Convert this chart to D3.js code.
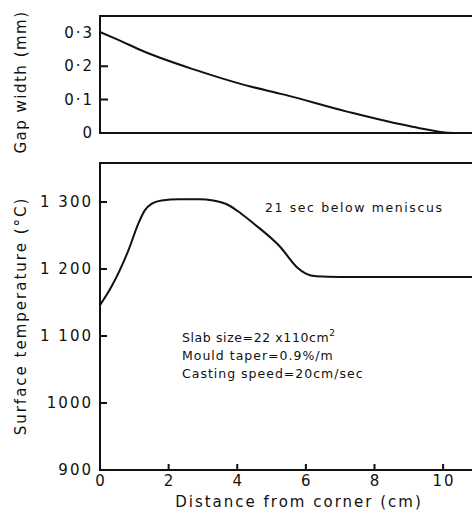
<!DOCTYPE html>
<html>
<head>
<meta charset="utf-8">
<script src="https://cdn.jsdelivr.net/npm/d3@7"></script>
<style>
  body { margin: 0; background: #fff; }
  svg text { font-family: "DejaVu Sans", sans-serif; fill: #111; }
</style>
</head>
<body>
<div class="chart"></div>
<script>
// gap width (mm) vs distance from corner (cm)
const gapX = [0, 0.5, 1.3, 2.8, 4.2, 5.4, 7.2, 9.1, 10.3, 10.9];
const gapY = [0.302, 0.28, 0.243, 0.188, 0.144, 0.114, 0.064, 0.019, 0, 0];

// surface temperature (°C) vs distance from corner (cm)
const tempX = [0, 0.34, 0.83, 1.12, 1.3, 1.5, 1.8, 2.3, 2.9, 3.3, 3.55, 3.75, 4.1, 4.47, 5.25, 5.73, 6.0, 6.3, 7, 10.9];
const tempY = [1146, 1174, 1228, 1268, 1287, 1297, 1302, 1304, 1304, 1302, 1299, 1295, 1283, 1268, 1233, 1203, 1193, 1189, 1188, 1188];

const xTicks = [0, 2, 4, 6, 8, 10];
const gapTicks = [0, 0.1, 0.2, 0.3];
const gapLabels = ['0', '0·1', '0·2', '0·3'];
const tempTicks = [900, 1000, 1100, 1200, 1300];
const tempLabels = ['900', '1000', '1 100', '1 200', '1 300'];

const notes = ['Slab size=22 x110cm', 'Mould taper=0.9%/m', 'Casting speed=20cm/sec'];

const W = 472, H = 511;
const svg = d3.select('.chart').append('svg')
  .attr('width', W)
  .attr('height', H);

const x = d3.scaleLinear().domain([0, 10.9]).range([100, 474]);
const yGap = d3.scaleLinear().domain([0, 0.35]).range([133, 16]);
const yTemp = d3.scaleLinear().domain([900, 1358]).range([470, 163]);

const stroke = '#111';

// frames (open on the right)
function frame(top, bottom) {
  svg.append('line').attr('x1', 100).attr('x2', W).attr('y1', top).attr('y2', top)
    .attr('stroke', stroke).attr('stroke-width', 2);
  svg.append('line').attr('x1', 100).attr('x2', W).attr('y1', bottom).attr('y2', bottom)
    .attr('stroke', stroke).attr('stroke-width', 2);
  svg.append('line').attr('x1', 100).attr('x2', 100).attr('y1', top - 1).attr('y2', bottom + 1)
    .attr('stroke', stroke).attr('stroke-width', 2);
}
frame(yGap(0.35), yGap(0));
frame(yTemp(1358), yTemp(900));

// inward tick marks
svg.append('path')
  .attr('fill', 'none')
  .attr('stroke', stroke)
  .attr('stroke-width', 2)
  .attr('d',
    gapTicks.filter(d => d > 0 && d < 0.3).map(d => `M100,${yGap(d)}H108`).join('') +
    tempTicks.filter(d => d > 900).map(d => `M100,${yTemp(d)}H107`).join('') +
    xTicks.filter(d => d > 0).map(d => `M${x(d)},${yTemp(900)}V${yTemp(900) - 6}`).join(''));

// tick labels
const labelStyle = sel => sel
  .style('font-size', '15px')
  .style('letter-spacing', '2px');

svg.append('g').selectAll('text')
  .data(gapTicks)
  .join('text')
  .attr('x', 94).attr('y', d => yGap(d))
  .attr('dy', '0.35em')
  .attr('text-anchor', 'end')
  .call(labelStyle)
  .text((d, i) => gapLabels[i]);

svg.append('g').selectAll('text')
  .data(tempTicks)
  .join('text')
  .attr('x', 93).attr('y', d => yTemp(d))
  .attr('dy', '0.35em')
  .attr('text-anchor', 'end')
  .call(labelStyle)
  .text((d, i) => tempLabels[i]);

svg.append('g').selectAll('text')
  .data(xTicks)
  .join('text')
  .attr('x', d => x(d) + 1).attr('y', yTemp(900) + 16)
  .attr('text-anchor', 'middle')
  .call(labelStyle)
  .text(d => d);

// curves
const lineGap = d3.line().x(d => x(d[0])).y(d => yGap(d[1])).curve(d3.curveMonotoneX);
svg.append('path')
  .datum(gapX.map((v, i) => [v, gapY[i]]))
  .attr('d', lineGap)
  .attr('fill', 'none').attr('stroke', stroke).attr('stroke-width', 2);

const lineTemp = d3.line().x(d => x(d[0])).y(d => yTemp(d[1])).curve(d3.curveMonotoneX);
svg.append('path')
  .datum(tempX.map((v, i) => [v, tempY[i]]))
  .attr('d', lineTemp)
  .attr('fill', 'none').attr('stroke', stroke).attr('stroke-width', 2);

// axis titles
svg.append('text')
  .attr('transform', 'translate(26,82) rotate(-90)')
  .attr('text-anchor', 'middle')
  .style('font-size', '15px').style('letter-spacing', '1.5px')
  .text('Gap width (mm)');
svg.append('text')
  .attr('transform', 'translate(26,316) rotate(-90)')
  .attr('text-anchor', 'middle')
  .style('font-size', '15px').style('letter-spacing', '2px')
  .text('Surface temperature (°C)');
svg.append('text')
  .attr('x', 299).attr('y', 507)
  .attr('text-anchor', 'middle')
  .style('font-size', '15px').style('letter-spacing', '2px')
  .text('Distance from corner (cm)');

// annotations
svg.append('text')
  .attr('x', 265).attr('y', 212)
  .style('font-size', '12.5px').style('letter-spacing', '1.6px')
  .text('21 sec below meniscus');

const noteG = svg.append('g');
notes.forEach((t, i) => {
  const tx = noteG.append('text')
    .attr('x', 182).attr('y', 342 + i * 18)
    .style('font-size', '12.5px').style('letter-spacing', i === 0 ? '0.6px' : '1px')
    .text(t);
  if (i === 0) tx.append('tspan').attr('dy', -6).style('font-size', '9px').text('2');
});
</script>
</body>
</html>
